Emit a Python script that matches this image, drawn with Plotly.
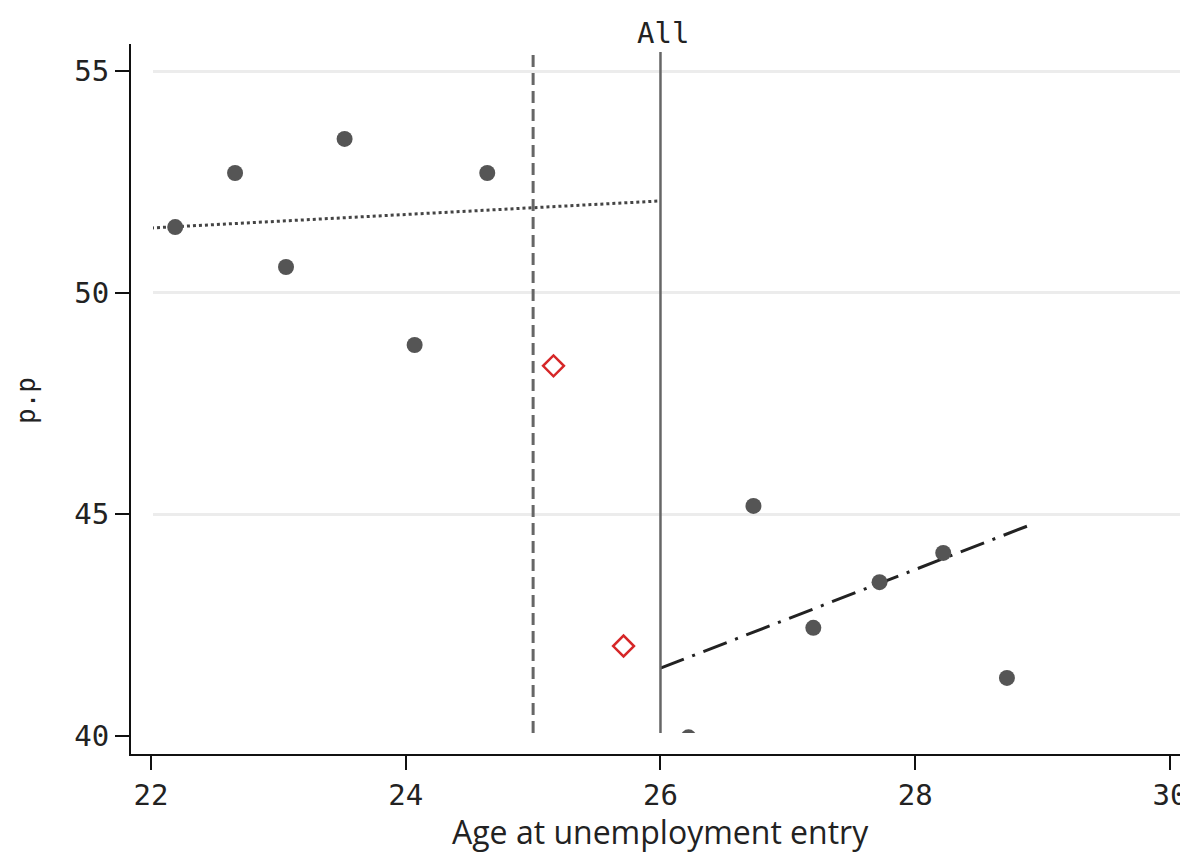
import plotly.graph_objects as go

# binned means (grey dots) and donut bins (red diamonds)
bin_x = [22.19, 22.66, 23.06, 23.52, 24.07, 24.64, 26.22, 26.73, 27.20, 27.72, 28.22, 28.72]
bin_y = [51.48, 52.70, 50.58, 53.47, 48.82, 52.70, 39.97, 45.19, 42.44, 43.47, 44.13, 41.31]
donut_x = [25.16, 25.71]
donut_y = [48.35, 42.03]

# linear fits either side of the cutoff
fit_left_x = [22.0, 26.0]
fit_left_y = [51.46, 52.07]
fit_right_x = [26.0, 28.92]
fit_right_y = [41.53, 44.78]

cutoff = 26
donut_edge = 25
x_ticks = [22, 24, 26, 28, 30]
y_ticks = [40, 45, 50, 55]

mono = "DejaVu Sans Mono"
y_lo, y_hi = 40.068, 55.43

fig = go.Figure()

fig.add_trace(go.Scatter(x=fit_left_x, y=fit_left_y, mode="lines",
                         line=dict(color="#444444", width=3, dash="dot")))
fig.add_trace(go.Scatter(x=fit_right_x, y=fit_right_y, mode="lines",
                         line=dict(color="#222222", width=3, dash="25px,9px,3px,9px")))
fig.add_trace(go.Scatter(x=[donut_edge, donut_edge], y=[y_lo, y_hi], mode="lines",
                         line=dict(color="#666666", width=3, dash="12px,6px")))
fig.add_trace(go.Scatter(x=[cutoff, cutoff], y=[y_lo, y_hi], mode="lines",
                         line=dict(color="#666666", width=2.5)))
fig.add_trace(go.Scatter(x=bin_x, y=bin_y, mode="markers",
                         marker=dict(color="#555555", size=16, line=dict(width=0))))
fig.add_trace(go.Scatter(x=donut_x, y=donut_y, mode="markers",
                         marker=dict(symbol="diamond-open", color="#d62728", size=16,
                                     line=dict(width=2.5))))

# dummy trace on the outer axes, which carry the ticks and axis lines
fig.add_trace(go.Scatter(x=[22], y=[45], xaxis="x2", yaxis="y2", mode="markers",
                         marker=dict(opacity=0), hoverinfo="skip"))

# the page body adds an 8px margin all round, so the figure is laid out smaller
OFF = 8
W, H = 1188 - OFF, 861 - 2 * OFF
ml, mr, mt = 131 - OFF, 2, 44 - OFF
mb = H - (754 - OFF)
pw, ph = W - ml - mr, H - mt - mb


def px_x(page_x):
    return (page_x - OFF - ml) / pw


def px_y(page_y):
    return (H - mb - (page_y - OFF)) / ph


tick_font = dict(family=mono, size=29, color="#222")

fig.update_layout(
    width=W, height=H,
    margin=dict(l=ml, r=mr, t=mt, b=mb),
    paper_bgcolor="white", plot_bgcolor="rgba(0,0,0,0)",
    showlegend=False,
    xaxis=dict(domain=[px_x(153), 1], range=[22.0157, 30.126],
               showgrid=False, zeroline=False, showticklabels=False, showline=False),
    yaxis=dict(domain=[px_y(733), px_y(52)], range=[y_lo, y_hi],
               tickvals=y_ticks, showgrid=True, gridcolor="#ececec", gridwidth=3,
               zeroline=False, showticklabels=False, showline=False),
    xaxis2=dict(domain=[0, 1], range=[21.843, 30.126], anchor="y2", automargin=False,
                tickvals=x_ticks, ticks="outside", ticklen=14, tickwidth=1.5,
                tickcolor="#111", showline=True, linecolor="#111", linewidth=2,
                showgrid=False, zeroline=False, tickfont=tick_font),
    yaxis2=dict(domain=[0, 1], range=[39.594, 55.609], anchor="x2", automargin=False,
                tickvals=y_ticks, ticks="outside", ticklen=14, tickwidth=1.5,
                tickcolor="#111", showline=True, linecolor="#111", linewidth=2,
                showgrid=False, zeroline=False, tickfont=tick_font),
    annotations=[
        dict(text="All", xref="paper", yref="paper", x=px_x(663), y=px_y(33),
             xanchor="center", yanchor="middle", showarrow=False,
             font=dict(family=mono, size=29, color="#222")),
        dict(text="Age at unemployment entry", xref="paper", yref="paper",
             x=px_x(660), y=px_y(831), xanchor="center", yanchor="middle",
             showarrow=False, font=dict(family="Open Sans", size=32, color="#222")),
        dict(text="p.p", xref="paper", yref="paper", x=px_x(26), y=px_y(401),
             xanchor="center", yanchor="middle", textangle=-90, showarrow=False,
             font=dict(family=mono, size=26, color="#222")),
    ],
)

fig.write_html("out.html")
